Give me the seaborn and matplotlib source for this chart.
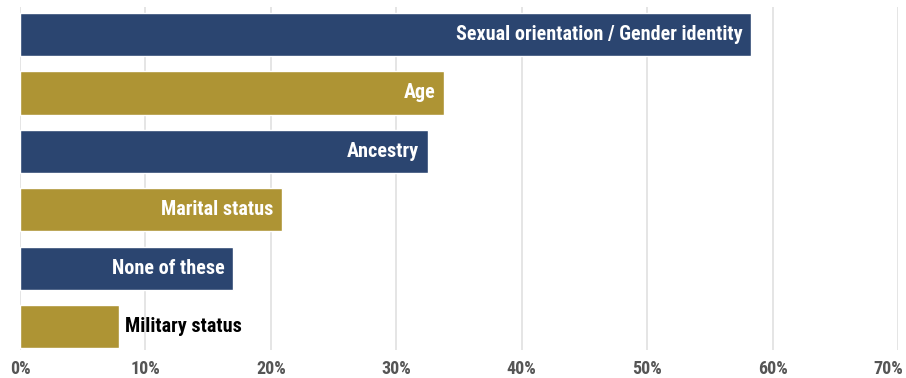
import matplotlib
matplotlib.use("Agg")
import matplotlib.pyplot as plt
import matplotlib.transforms as mtransforms
import seaborn as sns
import pandas as pd
from matplotlib import font_manager

categories = ["Sexual orientation / Gender identity", "Age", "Ancestry",
              "Marital status", "None of these", "Military status"]
values = [58.3, 33.8, 32.5, 20.9, 17.0, 7.9]
tick_values = [0, 10, 20, 30, 40, 50, 60, 70]
tick_labels = ["0%", "10%", "20%", "30%", "40%", "50%", "60%", "70%"]

navy = "#2B4570"
gold = "#AE9434"
colors = [navy, gold, navy, gold, navy, gold]

sns.set_theme(style="white")
names = {f.name for f in font_manager.fontManager.ttflist}
fam = [f for f in ["Liberation Sans Narrow", "DejaVu Sans Condensed", "Roboto Condensed", "Open Sans"] if f in names] + ["DejaVu Sans"]
plt.rcParams['font.family'] = fam

df = pd.DataFrame({"cat": categories, "val": values})

fig = plt.figure(figsize=(9.06, 3.78), dpi=100)
ax = fig.add_axes([20/906, 1-350/378, 878/906, 343/378])
sns.barplot(data=df, x="val", y="cat", hue="cat", palette=colors, legend=False,
            width=0.74, ax=ax, saturation=1, orient="h")

ax.set_xlim(0, 70)
ax.set_ylim(5.40, -0.47)
ax.set_xticks(tick_values)
ax.set_xticklabels(tick_labels, fontsize=13, fontweight="bold", color="#555555")
ax.set_yticks([])
ax.set_xlabel("")
ax.set_ylabel("")
for s in ax.spines.values():
    s.set_visible(False)
ax.grid(axis="x", color="#e0e0e0", linewidth=1.2)
ax.set_axisbelow(True)
ax.tick_params(axis="x", length=0, pad=7)

# nudge the last tick label so it stays within the figure
last = ax.get_xticklabels()[-1]
last.set_transform(last.get_transform() + mtransforms.ScaledTranslation(-10/100, 0, fig.dpi_scale_trans))

for i, (c, v) in enumerate(zip(categories, values)):
    if v > 15:
        ax.text(v - 0.7, i, c, ha="right", va="center", color="white",
                fontsize=14.5, fontweight="bold")
    else:
        ax.text(v + 0.5, i, c, ha="left", va="center", color="black",
                fontsize=14.5, fontweight="bold")

fig.savefig("out.png", dpi=100)
